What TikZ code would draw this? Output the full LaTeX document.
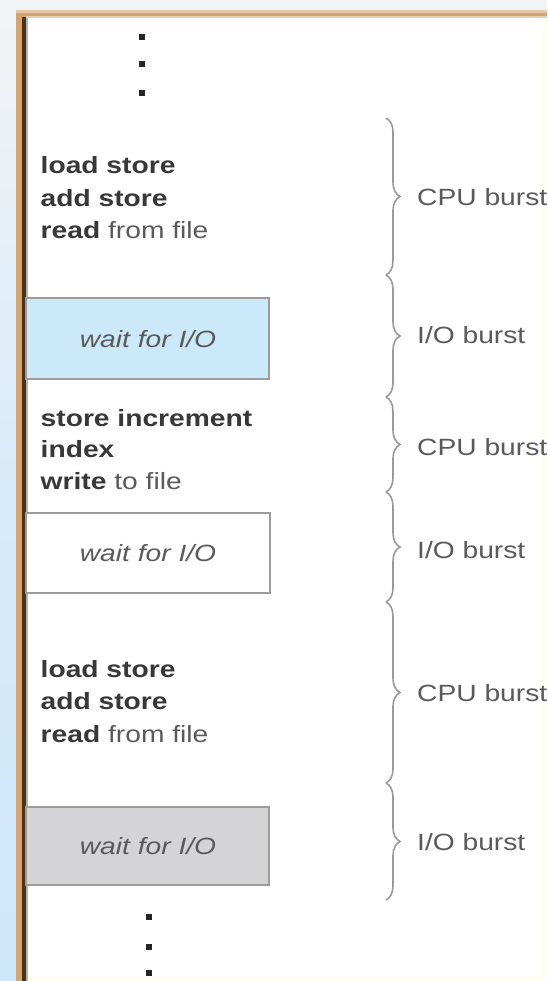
\documentclass[tikz,border=0pt]{standalone}
\usepackage{fontspec}
\setmainfont{Liberation Sans}[FakeStretch=1.2]
\usetikzlibrary{decorations.pathreplacing}
\definecolor{bgtop}{HTML}{F1F4F6}
\definecolor{bgblue}{HTML}{CDE7FB}
\definecolor{frametan}{HTML}{D4A471}
\definecolor{framedark}{HTML}{4B3219}
\definecolor{boxline}{HTML}{9C9C9C}
\definecolor{boxblue}{HTML}{CBE9F8}
\definecolor{boxgray}{HTML}{D4D4D6}
\definecolor{txtdark}{HTML}{383838}
\definecolor{txtmid}{HTML}{5A5A5A}
\definecolor{bracecol}{HTML}{9A9A9A}
\begin{document}
\begin{tikzpicture}[x=1pt,y=-1pt,
  txt/.style={anchor=base west,inner sep=0pt,font=\fontsize{23.5}{30}\selectfont,text=txtmid},
  waitbox/.style={draw=boxline,line width=2.2pt,inner sep=0pt},
  waittxt/.style={inner sep=0pt,font=\fontsize{23.5}{30}\selectfont\itshape,text=txtmid},
  burst/.style={anchor=west,inner sep=0pt,font=\fontsize{23.5}{30}\selectfont,text=txtmid},
  bracepath/.style={draw=bracecol,line width=1.6pt,decorate,decoration={brace,amplitude=14pt}},
  dot/.style={fill=black!85,rectangle,inner sep=0pt,minimum size=6pt}]
\useasboundingbox (0,0) rectangle (547,981);
\clip (0,0) rectangle (547,981);
% background and frame
\fill[bgtop] (0,0) rectangle (547,981);
\shade[top color=bgtop,bottom color=bgblue,middle color=bgblue!70!bgtop] (0,0) rectangle (16,981);
\fill[frametan] (16,10) rectangle (547,981);
\fill[frametan!60!white] (16,10) rectangle (547,13);
\fill[frametan!55!white] (26,16) rectangle (547,18);
\fill[framedark] (22,17) rectangle (26,981);
\fill[white] (26,18) rectangle (547,981);
\fill[black!30] (26,18) rectangle (28,981);
\fill[yellow!8!white] (28,977) rectangle (547,981);
\fill[yellow!5!white] (541,18) rectangle (547,981);
% dots
\node[dot] (d1) at (142,37) {};
\node[dot] (d2) at (142,64) {};
\node[dot] (d3) at (142,93) {};
\node[dot] (d4) at (149,917) {};
\node[dot] (d5) at (149,947) {};
\node[dot] (d6) at (149,973) {};
% block 1
\node[txt] (a1) at (40.5,174) {\textcolor{txtdark}{\bfseries load store}};
\node[txt] (a2) at (40.5,206.5) {\textcolor{txtdark}{\bfseries add store}};
\node[txt] (a3) at (40.5,239) {\textcolor{txtdark}{\bfseries read} from file};
% box 1
\path[waitbox,fill=boxblue] (26,298) rectangle (269,379);
\node[waittxt] (w1) at (148,339) {wait for I/O};
% block 2
\node[txt] (b1) at (40.5,426) {\textcolor{txtdark}{\bfseries store increment}};
\node[txt] (b2) at (40.5,457.5) {\textcolor{txtdark}{\bfseries index}};
\node[txt] (b3) at (40.5,489) {\textcolor{txtdark}{\bfseries write} to file};
% box 2
\path[waitbox,fill=white] (26,513) rectangle (270,593);
\node[waittxt] (w2) at (148,553) {wait for I/O};
% block 3
\node[txt] (c1) at (40.5,677) {\textcolor{txtdark}{\bfseries load store}};
\node[txt] (c2) at (40.5,709) {\textcolor{txtdark}{\bfseries add store}};
\node[txt] (c3) at (40.5,742) {\textcolor{txtdark}{\bfseries read} from file};
% box 3
\path[waitbox,fill=boxgray] (26,807) rectangle (269,885);
\node[waittxt] (w3) at (148,846) {wait for I/O};
% braces
\coordinate (k0) at (386,118);
\coordinate (k1) at (386,275);
\coordinate (k2) at (386,397);
\coordinate (k3) at (386,492);
\coordinate (k4) at (386,602);
\coordinate (k5) at (386,783);
\coordinate (k6) at (386,900);
\draw[bracepath] (k0) -- (k1);
\draw[bracepath] (k1) -- (k2);
\draw[bracepath] (k2) -- (k3);
\draw[bracepath] (k3) -- (k4);
\draw[bracepath] (k4) -- (k5);
\draw[bracepath] (k5) -- (k6);
\node[burst] (l1) at (417,197) {CPU burst};
\node[burst] (l2) at (417,335) {I/O burst};
\node[burst] (l3) at (417,447) {CPU burst};
\node[burst] (l4) at (417,550) {I/O burst};
\node[burst] (l5) at (417,693) {CPU burst};
\node[burst] (l6) at (417,842) {I/O burst};
\end{tikzpicture}
\end{document}
